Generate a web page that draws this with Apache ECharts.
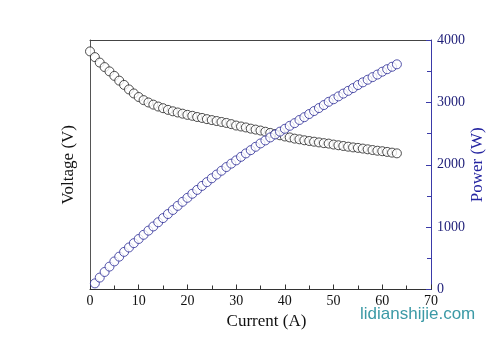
<!DOCTYPE html>
<html>
<head>
<meta charset="utf-8">
<script src="https://cdn.jsdelivr.net/npm/echarts@6/dist/echarts.min.js"></script>
<style>
  html, body { margin: 0; padding: 0; background: #fff; }
  #chart { width: 500px; height: 348px; }
</style>
</head>
<body>
<div id="chart"></div>
<script>
// Stack current (A) for each measured point
const current = [
  0, 1, 2, 3, 4, 5, 6, 7, 8, 9,
  10, 11, 12, 13, 14, 15, 16, 17, 18, 19,
  20, 21, 22, 23, 24, 25, 26, 27, 28, 29,
  30, 31, 32, 33, 34, 35, 36, 37, 38, 39,
  40, 41, 42, 43, 44, 45, 46, 47, 48, 49,
  50, 51, 52, 53, 54, 55, 56, 57, 58, 59,
  60, 61, 62, 63
];

// Stack voltage (V) at each current
const voltage = [
  100.2, 97.8, 95.5, 93.6, 91.8, 89.9, 87.9, 86.1, 84.2, 82.5,
  81.0, 79.7, 78.7, 77.8, 77.0, 76.3, 75.6, 75.0, 74.5, 74.0,
  73.5, 73.1, 72.6, 72.2, 71.7, 71.3, 70.9, 70.5, 70.1, 69.6,
  69.0, 68.6, 68.2, 67.7, 67.3, 66.9, 66.4, 65.9, 65.4, 64.9,
  64.4, 64.0, 63.5, 63.2, 62.8, 62.5, 62.2, 61.9, 61.6, 61.4,
  61.0, 60.7, 60.4, 60.1, 59.8, 59.6, 59.3, 59.0, 58.7, 58.4,
  58.2, 57.9, 57.6, 57.3
];

// Output power (W), from 1 A upward
const power = [
  98, 191, 281, 367, 450, 527, 603, 674, 743,
  810, 877, 944, 1011, 1078, 1145, 1210, 1275, 1341, 1406,
  1470, 1535, 1597, 1661, 1721, 1783, 1843, 1904, 1963, 2018,
  2070, 2127, 2182, 2234, 2288, 2342, 2390, 2438, 2485, 2531,
  2576, 2624, 2667, 2718, 2763, 2813, 2861, 2909, 2957, 3009,
  3050, 3096, 3141, 3185, 3229, 3278, 3321, 3363, 3405, 3446,
  3492, 3532, 3571, 3610
];

const powerCurrent = current.slice(1);

const serif = "'Liberation Serif', 'DejaVu Serif', serif";
const dark = '#333333';
const blue = '#3a3aa8';
const blueText = '#1e1e78';
const plain = v => String(v);

const chart = echarts.init(document.getElementById('chart'), null, { renderer: 'canvas' });

chart.setOption({
  animation: false,
  backgroundColor: '#ffffff',
  grid: { left: 90, right: 69, top: 40, bottom: 58.5, containLabel: false },
  xAxis: [
    {
      type: 'value', min: 0, max: 70, interval: 10,
      name: 'Current (A)', nameLocation: 'middle', nameGap: 20,
      nameTextStyle: { fontFamily: serif, fontSize: 17, color: '#111', padding: [0, 0, 0, 12] },
      axisLine: { show: true, onZero: false, lineStyle: { color: dark, width: 1 } },
      axisTick: { show: true, inside: true, length: 5, lineStyle: { color: dark } },
      minorTick: { show: true, splitNumber: 2, length: 4, lineStyle: { color: dark } },
      axisLabel: { fontFamily: serif, fontSize: 14, color: '#111', margin: 5, formatter: plain },
      splitLine: { show: false }
    },
    {
      type: 'value', min: 0, max: 70, position: 'top',
      axisLine: { show: true, onZero: false, lineStyle: { color: '#444', width: 1 } },
      axisTick: { show: false }, axisLabel: { show: false }, splitLine: { show: false }
    }
  ],
  yAxis: [
    {
      type: 'value', min: 0, max: 105, position: 'left',
      name: 'Voltage (V)', nameLocation: 'middle', nameGap: 13,
      nameTextStyle: { fontFamily: serif, fontSize: 17, color: '#111' },
      axisLine: { show: true, onZero: false, lineStyle: { color: '#555', width: 1 } },
      axisTick: { show: false }, axisLabel: { show: false }, splitLine: { show: false }
    },
    {
      type: 'value', min: 0, max: 4000, interval: 1000, position: 'right',
      name: 'Power (W)', nameLocation: 'middle', nameGap: 38, nameMoveOverlap: false,
      nameTextStyle: { fontFamily: serif, fontSize: 17, color: '#2424a0' },
      axisLine: { show: true, onZero: false, lineStyle: { color: blue, width: 1 } },
      axisTick: { show: true, inside: true, length: 5, lineStyle: { color: blue } },
      minorTick: { show: true, splitNumber: 2, length: 4, lineStyle: { color: blue } },
      axisLabel: { fontFamily: serif, fontSize: 14, color: blueText, margin: 6, formatter: plain },
      splitLine: { show: false }
    }
  ],
  series: [
    {
      name: 'Voltage', type: 'scatter', xAxisIndex: 0, yAxisIndex: 0,
      symbol: 'circle', symbolSize: 9,
      itemStyle: { color: '#ffffff', borderColor: '#222222', borderWidth: 1 },
      data: current.map((c, i) => [c, voltage[i]])
    },
    {
      name: 'Power', type: 'scatter', xAxisIndex: 0, yAxisIndex: 1,
      symbol: 'circle', symbolSize: 9,
      itemStyle: { color: '#ffffff', borderColor: '#2a2a96', borderWidth: 1 },
      data: powerCurrent.map((c, i) => [c, power[i]])
    }
  ],
  graphic: [
    {
      type: 'text', left: 360, top: 306,
      style: {
        text: 'lidianshijie.com',
        font: "17px 'Liberation Sans', 'DejaVu Sans', sans-serif",
        fill: '#3c9aa6'
      }
    }
  ]
});
</script>
</body>
</html>
